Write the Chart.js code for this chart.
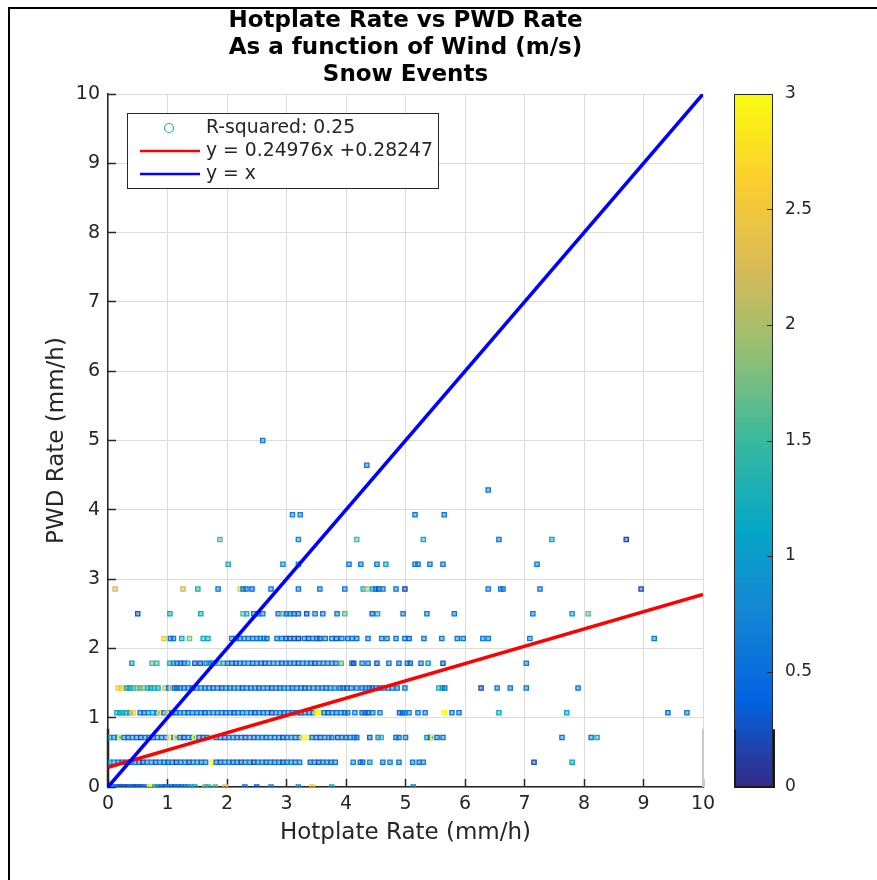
<!DOCTYPE html>
<html>
<head>
<meta charset="utf-8">
<title>Hotplate Rate vs PWD Rate</title>
<script src="https://cdn.jsdelivr.net/npm/chart.js@4.4.1/dist/chart.umd.min.js"></script>
<style>
    html, body { margin: 0; padding: 0; background: #fff; }
    #wrap { position: relative; width: 877px; height: 880px; overflow: hidden; }
    #frame {
        position: absolute; left: 8px; top: 7px; width: 877px; height: 880px;
        border-left: 2px solid #000; border-top: 2px solid #000; pointer-events: none;
    }
</style>
</head>
<body>
<div id="wrap">
    <canvas id="chart" width="877" height="880"></canvas>
    <div id="frame"></div>
</div>
<script>
// --- datos ---
const titleLines = ['Hotplate Rate vs PWD Rate', 'As a function of Wind (m/s)', 'Snow Events'];
const xLabel = 'Hotplate Rate (mm/h)';
const yLabel = 'PWD Rate (mm/h)';

const rSquared = 0.25;
const fitSlope = 0.24976;
const fitIntercept = 0.28247;
const lineX = [0, 10];

// niveles de PWD (cuantizados) y valores Hotplate / viento por nivel
const pwdLevels = [0, 0.357, 0.714, 1.071, 1.429, 1.786, 2.143, 2.5, 2.857, 3.214, 3.571, 3.929, 4.286, 4.643, 5.0];

const hotplateByLevel = [
    [0.03,0.08,0.13,0.18,0.23,0.28,0.33,0.38,0.43,0.48,0.53,0.58,0.64,0.70,0.74,0.79,0.84,0.90,0.96,1.01,1.07,1.12,1.18,1.23,1.29,1.34,1.40,1.46,1.63,1.68,1.80,1.97,2.30,2.50,2.74,3.20,3.43,3.76,5.13],
    [0.03,0.10,0.17,0.24,0.31,0.38,0.45,0.52,0.59,0.66,0.73,0.80,0.87,0.94,1.01,1.08,1.15,1.22,1.29,1.36,1.43,1.50,1.57,1.64,1.75,1.82,1.89,1.96,2.03,2.10,2.17,2.24,2.31,2.38,2.45,2.52,2.59,2.66,2.73,2.80,2.87,2.94,3.01,3.08,3.15,3.22,3.40,3.47,3.54,3.61,3.68,3.75,3.82,4.12,4.24,4.28,4.40,4.62,4.74,4.89,5.12,5.23,5.30,7.16,7.80],
    [0.03,0.10,0.17,0.20,0.27,0.34,0.41,0.48,0.55,0.62,0.69,0.76,0.83,0.90,0.97,1.04,1.11,1.14,1.21,1.28,1.35,1.42,1.46,1.53,1.60,1.67,1.75,1.82,1.89,1.96,2.03,2.10,2.17,2.24,2.31,2.38,2.45,2.52,2.59,2.66,2.73,2.80,2.87,2.94,3.01,3.08,3.15,3.22,3.28,3.36,3.43,3.50,3.57,3.64,3.71,3.76,3.86,3.93,4.00,4.07,4.14,4.18,4.40,4.54,4.59,4.84,4.89,5.00,5.36,5.42,5.46,5.53,5.63,7.63,8.12,8.22],
    [0.15,0.20,0.25,0.30,0.37,0.42,0.54,0.61,0.68,0.75,0.82,0.87,0.94,1.00,1.07,1.14,1.21,1.28,1.35,1.42,1.49,1.56,1.63,1.70,1.77,1.84,1.91,1.98,2.05,2.12,2.19,2.26,2.33,2.40,2.47,2.54,2.61,2.68,2.75,2.82,2.89,2.96,3.03,3.10,3.17,3.24,3.31,3.38,3.45,3.51,3.56,3.63,3.70,3.77,3.84,3.91,3.98,4.03,4.15,4.27,4.32,4.37,4.45,4.57,4.90,4.95,4.99,5.06,5.21,5.33,5.65,5.78,5.90,6.57,7.71,9.41,9.73],
    [0.17,0.22,0.29,0.32,0.37,0.42,0.49,0.54,0.59,0.67,0.72,0.78,0.84,0.96,1.02,1.07,1.12,1.16,1.21,1.28,1.35,1.42,1.49,1.56,1.63,1.70,1.77,1.84,1.91,1.98,2.05,2.12,2.19,2.26,2.33,2.40,2.47,2.54,2.61,2.68,2.75,2.82,2.89,2.96,3.03,3.10,3.17,3.24,3.31,3.38,3.45,3.53,3.60,3.67,3.74,3.81,3.90,3.95,4.02,4.09,4.18,4.27,4.33,4.39,4.44,4.50,4.57,4.64,4.71,4.78,4.86,4.99,5.56,5.62,5.66,6.27,6.54,6.76,7.03,7.90],
    [0.40,0.74,0.82,1.04,1.10,1.16,1.22,1.28,1.34,1.46,1.55,1.65,1.70,1.75,1.80,1.87,1.94,2.01,2.08,2.15,2.22,2.29,2.36,2.43,2.50,2.57,2.64,2.71,2.78,2.85,2.92,2.99,3.06,3.13,3.20,3.27,3.34,3.41,3.48,3.55,3.62,3.69,3.76,3.83,3.92,4.10,4.13,4.27,4.37,4.52,4.72,4.89,5.03,5.08,5.26,5.38,5.63,7.03],
    [0.94,1.05,1.10,1.24,1.37,1.60,1.68,2.08,2.15,2.22,2.29,2.36,2.43,2.50,2.56,2.62,2.67,2.84,2.92,2.99,3.06,3.13,3.20,3.30,3.37,3.44,3.51,3.56,3.65,3.76,3.84,3.93,4.03,4.10,4.18,4.37,4.60,4.69,4.84,4.99,5.06,5.31,5.61,5.87,5.97,6.30,6.39,7.09,9.18],
    [0.50,1.04,1.56,2.27,2.33,2.45,2.52,2.60,2.86,2.94,3.00,3.06,3.13,3.20,3.34,3.48,3.61,3.85,3.98,4.44,4.53,4.96,5.36,5.82,7.14,7.80,8.07],
    [0.12,1.26,1.51,1.85,2.22,2.27,2.32,2.42,2.74,3.20,3.56,3.98,4.29,4.36,4.45,4.50,4.55,4.62,4.84,4.99,6.39,6.60,6.64,7.26,8.96],
    [2.02,2.94,3.20,4.05,4.25,4.52,4.67,5.16,5.21,5.41,5.63,7.21],
    [1.88,3.20,4.18,5.30,6.57,7.46,8.71],
    [3.10,3.23,5.16,5.65],
    [6.39],
    [4.35],
    [2.60]
];

const windByLevel = [
    [1.0,0.9,0.5,0.3,0.2,0.3,0.2,0.5,0.3,0.2,0.4,0.3,0.6,3.0,2.9,1.1,0.9,0.5,0.3,0.6,0.5,0.3,0.6,0.4,0.5,0.7,1.2,1.1,1.7,1.3,1.6,2.4,0.5,0.3,0.7,0.8,2.5,1.1,0.7],
    [1.0,0.9,0.6,0.4,0.6,0.3,0.6,0.5,0.2,0.6,0.7,0.3,0.6,0.5,0.4,0.6,0.2,0.5,0.6,0.3,0.6,0.7,0.4,0.6,3.0,0.5,0.3,0.6,0.7,0.4,0.6,0.3,0.5,0.6,0.2,0.6,0.7,0.4,0.6,0.5,0.6,0.3,0.6,0.7,0.5,0.6,0.4,0.6,0.3,0.6,0.7,0.5,0.6,0.7,0.6,0.5,0.8,0.6,0.7,0.6,0.6,0.5,0.7,0.2,1.1],
    [1.0,0.8,0.6,3.0,0.6,0.4,0.6,0.5,0.3,0.6,0.6,0.4,0.6,0.5,0.6,2.8,0.6,3.0,0.5,0.3,0.6,0.7,2.9,0.6,0.4,0.6,3.0,0.5,0.6,0.3,0.6,0.7,0.5,0.6,0.3,0.6,0.5,0.6,0.7,0.4,0.6,0.5,0.6,0.3,0.6,0.7,0.5,0.6,3.0,3.0,0.6,0.5,0.3,0.6,0.7,0.6,0.3,0.6,0.5,0.6,0.6,0.5,0.4,0.8,1.4,0.5,0.6,0.6,1.0,0.6,3.0,0.5,0.6,0.6,0.6,1.2],
    [1.2,1.1,1.3,1.2,1.0,2.6,0.6,0.4,0.6,1.1,0.6,2.7,0.6,2.2,0.5,0.3,0.6,0.7,0.4,0.6,0.5,0.6,0.3,0.6,0.7,0.5,0.6,0.4,0.6,0.3,0.6,0.5,0.7,0.6,0.3,0.6,0.5,0.6,0.2,0.6,0.7,0.4,0.6,0.5,0.6,0.3,0.6,0.5,0.6,3.0,3.0,0.6,0.3,0.6,0.5,0.6,0.4,0.6,0.6,0.5,0.6,0.3,0.6,0.7,0.4,0.5,0.6,0.7,0.6,0.6,3.0,0.6,0.6,1.2,1.1,0.5,0.6],
    [2.6,2.5,2.6,1.2,1.1,1.4,1.7,1.6,1.8,1.2,1.1,1.3,1.2,2.2,0.6,2.6,0.6,0.4,0.6,0.5,0.6,0.3,0.6,0.7,0.5,0.6,0.4,0.6,0.3,0.6,0.5,0.6,0.7,0.3,0.6,0.5,0.6,0.4,0.6,0.6,0.3,0.6,0.5,0.6,0.7,0.4,0.6,0.5,0.3,0.6,0.6,0.5,0.6,0.4,0.6,0.7,0.5,0.6,0.3,0.6,0.6,0.5,0.6,0.6,0.4,0.6,0.5,0.6,0.7,0.6,0.6,0.6,1.3,1.1,0.6,0.2,0.6,0.6,0.6,0.6],
    [1.1,1.6,1.5,1.2,0.9,0.6,0.5,0.4,1.1,0.3,0.3,0.6,1.1,0.6,1.3,1.5,1.2,0.6,0.5,0.3,0.6,0.5,0.7,0.4,0.6,0.5,0.3,0.6,0.6,0.7,0.4,0.6,0.5,0.6,0.3,0.6,0.6,0.5,0.3,0.6,0.6,0.6,0.7,0.6,1.6,0.6,0.3,0.6,0.5,0.3,0.6,0.5,0.6,0.4,0.6,1.0,0.3,0.6],
    [2.5,0.6,0.6,1.2,1.8,1.2,1.2,0.6,0.6,0.5,0.6,0.6,0.5,0.6,0.6,0.6,0.5,0.6,0.6,0.3,0.3,0.3,0.2,0.6,0.2,0.6,0.5,0.3,0.6,0.6,0.3,0.6,0.6,0.6,0.5,0.6,0.6,0.6,0.6,0.5,0.4,0.6,0.6,0.6,0.6,0.6,0.6,0.6,0.6],
    [0.3,1.2,1.2,1.6,1.3,0.6,0.6,0.6,0.6,1.6,0.6,0.6,0.4,0.5,0.3,0.6,0.6,0.6,1.6,0.4,1.2,0.6,0.6,0.6,0.6,1.0,1.7],
    [2.2,2.2,1.3,0.6,2.5,0.6,0.6,0.4,0.6,0.6,0.6,0.6,1.2,2.1,1.2,0.6,0.3,0.6,0.6,0.2,0.6,0.6,0.6,0.6,0.2],
    [1.3,0.8,0.9,0.6,0.6,0.6,1.1,0.6,0.6,0.6,0.6,0.6],
    [1.6,0.8,1.6,1.2,0.6,1.1,0.2],
    [0.7,0.7,0.6,0.6],
    [0.6],
    [0.6],
    [0.6]
];

const windMin = 0;
const windMax = 3;

// --- estilos ---
const FONT = "'DejaVu Sans', sans-serif";
const INK = '#262626';
const GRID = '#dcdcdc';

// colormap parula (aprox.)
const parulaStops = [
    [53, 42, 135], [3, 99, 225], [20, 133, 212], [6, 167, 198], [56, 185, 158],
    [146, 191, 115], [217, 186, 86], [252, 206, 46], [249, 251, 14]
];

function parula(t, alpha) {
    t = Math.max(0, Math.min(1, t));
    const p = t * (parulaStops.length - 1);
    const i = Math.min(Math.floor(p), parulaStops.length - 2);
    const f = p - i;
    const a = parulaStops[i], b = parulaStops[i + 1];
    const c = a.map((v, k) => Math.round(v + (b[k] - v) * f));
    return alpha === undefined ? `rgb(${c[0]},${c[1]},${c[2]})` : `rgba(${c[0]},${c[1]},${c[2]},${alpha})`;
}

const points = [];
pwdLevels.forEach((lvl, i) => {
    hotplateByLevel[i].forEach((hx, j) => {
        const w = windByLevel[i][j] !== undefined ? windByLevel[i][j] : 0.6;
        points.push({ x: hx, y: lvl, w: w });
    });
});
const pointColors = points.map(p => parula((p.w - windMin) / (windMax - windMin)));
const pointFills = points.map(p => parula((p.w - windMin) / (windMax - windMin), 0.45));

const fitLabel = `y = ${fitSlope}x +${fitIntercept}`;

// titulo centrado sobre el area del grafico
const titlePlugin = {
    id: 'matTitle',
    afterDraw(chart) {
        const { ctx, chartArea } = chart;
        const cx = (chartArea.left + chartArea.right) / 2;
        ctx.save();
        ctx.fillStyle = '#000';
        ctx.font = `bold 23px ${FONT}`;
        ctx.textAlign = 'center';
        ctx.textBaseline = 'middle';
        titleLines.forEach((line, i) => {
            ctx.fillText(line, cx, chartArea.top - 73 + i * 27);
        });
        ctx.restore();
    }
};

// recuadro gris del render original (zona baja)
const boxPlugin = {
    id: 'lowBox',
    beforeDatasetsDraw(chart) {
        const { ctx, chartArea } = chart;
        const yTop = chart.scales.y.getPixelForValue(0.84);
        ctx.save();
        ctx.strokeStyle = '#c8c8c8';
        ctx.lineWidth = 2;
        ctx.beginPath();
        ctx.moveTo(chartArea.right, yTop);
        ctx.lineTo(chartArea.right, chartArea.bottom);
        ctx.stroke();
        ctx.strokeStyle = INK;
        ctx.lineWidth = 2.5;
        ctx.beginPath();
        ctx.moveTo(chartArea.left, yTop);
        ctx.lineTo(chartArea.left, chartArea.bottom);
        ctx.stroke();
        ctx.restore();
    }
};

// leyenda dentro del area
const legendPlugin = {
    id: 'matLegend',
    afterDraw(chart) {
        const { ctx, chartArea } = chart;
        const x0 = chartArea.left + 19, y0 = chartArea.top + 19;
        const w = 311, h = 75;
        ctx.save();
        ctx.fillStyle = '#fff';
        ctx.fillRect(x0, y0, w, h);
        ctx.strokeStyle = INK;
        ctx.lineWidth = 1;
        ctx.strokeRect(x0 + 0.5, y0 + 0.5, w, h);

        const rows = [
            { kind: 'marker', text: `R-squared: ${rSquared}` },
            { kind: 'line', color: '#ff0000', text: fitLabel },
            { kind: 'line', color: '#0000ff', text: 'y = x' }
        ];
        ctx.font = `18.8px ${FONT}`;
        ctx.textBaseline = 'middle';
        ctx.textAlign = 'left';
        rows.forEach((r, i) => {
            const yy = y0 + 15 + i * 23;
            if (r.kind === 'marker') {
                ctx.strokeStyle = parula(1.35 / 3);
                ctx.lineWidth = 1.2;
                ctx.beginPath();
                ctx.arc(x0 + 42, yy, 4.5, 0, Math.PI * 2);
                ctx.stroke();
            } else {
                ctx.strokeStyle = r.color;
                ctx.lineWidth = 2.5;
                ctx.beginPath();
                ctx.moveTo(x0 + 13, yy);
                ctx.lineTo(x0 + 73, yy);
                ctx.stroke();
            }
            ctx.fillStyle = INK;
            ctx.fillText(r.text, x0 + 79, yy);
        });
        ctx.restore();
    }
};

// barra de color usando la escala 'wind'
const colorbarPlugin = {
    id: 'colorbar',
    afterDraw(chart) {
        const { ctx, chartArea } = chart;
        const sc = chart.scales.wind;
        const left = chartArea.right + 31, right = chartArea.right + 70;
        const yTop = sc.getPixelForValue(windMax), yBot = sc.getPixelForValue(windMin);
        ctx.save();
        const grad = ctx.createLinearGradient(0, yBot, 0, yTop);
        parulaStops.forEach((s, i) => grad.addColorStop(i / (parulaStops.length - 1), `rgb(${s[0]},${s[1]},${s[2]})`));
        ctx.fillStyle = grad;
        ctx.fillRect(left, yTop, right - left, yBot - yTop);
        ctx.strokeStyle = INK;
        ctx.lineWidth = 1;
        ctx.strokeRect(left + 0.5, yTop + 0.5, right - left - 1, yBot - yTop - 1);
        sc.ticks.forEach(t => {
            const yy = Math.round(sc.getPixelForValue(t.value)) + 0.5;
            ctx.beginPath();
            ctx.moveTo(right - 6, yy);
            ctx.lineTo(right, yy);
            ctx.stroke();
        });
        // bordes oscuros en la parte baja (como en el original)
        const yLow = sc.getPixelForValue(0.25);
        ctx.lineWidth = 2;
        ctx.strokeStyle = '#1a1a1a';
        ctx.beginPath();
        ctx.moveTo(left + 1, yLow);
        ctx.lineTo(left + 1, yBot);
        ctx.lineTo(right + 1, yBot);
        ctx.lineTo(right + 1, yLow);
        ctx.stroke();
        ctx.restore();
    }
};

const ctx = document.getElementById('chart').getContext('2d');
new Chart(ctx, {
    type: 'scatter',
    data: {
        datasets: [
            {
                type: 'line',
                label: 'y = x',
                data: lineX.map(x => ({ x: x, y: x })),
                borderColor: '#0000ff',
                borderWidth: 3.5,
                pointRadius: 0,
                fill: false,
                order: 1
            },
            {
                type: 'line',
                label: fitLabel,
                data: lineX.map(x => ({ x: x, y: fitSlope * x + fitIntercept })),
                borderColor: '#ff0000',
                borderWidth: 3.5,
                pointRadius: 0,
                fill: false,
                order: 2
            },
            {
                label: `R-squared: ${rSquared}`,
                data: points,
                pointStyle: 'rect',
                pointRadius: 3.0,
                borderWidth: 1.3,
                borderColor: pointColors,
                backgroundColor: pointFills,
                order: 3
            }
        ]
    },
    options: {
        responsive: false,
        animation: false,
        layout: { padding: { top: 94, left: 0, right: 0, bottom: 0 } },
        plugins: {
            legend: { display: false },
            title: { display: false },
            tooltip: { enabled: false }
        },
        scales: {
            x: {
                type: 'linear',
                min: 0, max: 10,
                ticks: { stepSize: 1, color: INK, font: { family: FONT, size: 19 }, padding: 14, maxRotation: 0 },
                grid: { color: GRID, tickColor: INK, tickLength: -8, tickWidth: 1.5 },
                border: { color: INK, width: 1.5 },
                title: { display: true, text: xLabel, color: INK, font: { family: FONT, size: 23 }, padding: { top: 0, bottom: 33 } },
                afterFit: s => { s.height = 93; }
            },
            y: {
                type: 'linear',
                min: 0, max: 10,
                ticks: { stepSize: 1, color: INK, font: { family: FONT, size: 19 }, padding: 16 },
                grid: { color: GRID, tickColor: INK, tickLength: -8, tickWidth: 1.5 },
                border: { color: INK, width: 1.5 },
                title: { display: true, text: yLabel, color: INK, font: { family: FONT, size: 23 }, padding: { top: 43, bottom: 0 } },
                afterFit: s => { s.width = 108; }
            },
            wind: {
                type: 'linear',
                position: 'right',
                min: windMin, max: windMax,
                ticks: {
                    stepSize: 0.5, color: INK, font: { family: FONT, size: 17 }, padding: 74,
                    callback: v => String(v)
                },
                grid: { display: false, drawOnChartArea: false },
                border: { display: false },
                afterFit: s => { s.width = 174; }
            }
        }
    },
    plugins: [boxPlugin, titlePlugin, legendPlugin, colorbarPlugin]
});
</script>
</body>
</html>
